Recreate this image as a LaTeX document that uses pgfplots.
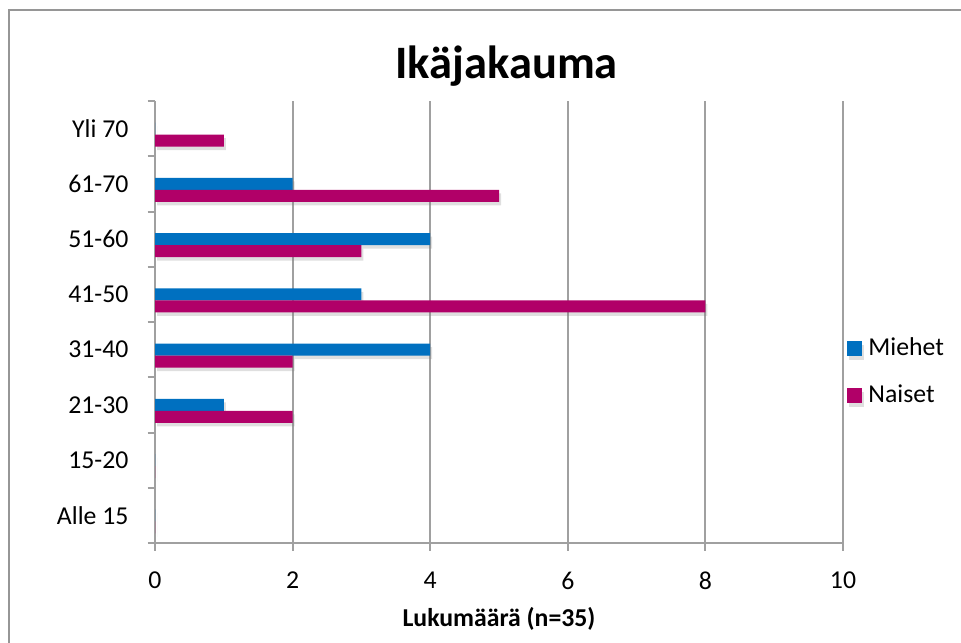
\documentclass[border=0pt]{standalone}
\usepackage{fontspec}
\setmainfont{Carlito}
\usepackage{pgfplots}
\pgfplotsset{compat=1.18}
\usetikzlibrary{shadows}
\definecolor{miehet}{RGB}{0,112,192}
\definecolor{naiset}{RGB}{177,0,104}
\definecolor{gridgray}{RGB}{160,160,160}
\definecolor{framegray}{RGB}{150,150,150}
\begin{document}
\begin{tikzpicture}
\useasboundingbox (0,0) rectangle (384.4pt,256.8pt);
\draw[framegray, line width=0.8pt] (3.6pt,-20pt) rectangle (400pt,252.8pt);
\node[font=\bfseries\fontsize{18.6}{21}\selectfont, anchor=base] at (202.6pt,225.5pt) {Ikäjakauma};
\begin{axis}[
  at={(62pt,39.6pt)}, anchor=south west,
  width=275.2pt, height=176.8pt, scale only axis,
  xmin=0, xmax=10, ymin=-0.5, ymax=7.5,
  xtick={0,2,...,10},
  ytick={-0.5,0.5,...,7.5},
  yticklabels={},
  extra y ticks={0,1,2,3,4,5,6,7},
  extra y tick labels={Alle 15,15-20,21-30,31-40,41-50,51-60,61-70,Yli 70},
  extra y tick style={tick style={draw=none}, grid=none},
  axis x line*=bottom, axis y line*=left,
  axis line style={gridgray, line width=0.8pt},
  tick style={gridgray, line width=0.8pt},
  xmajorgrids, grid style={gridgray, line width=0.8pt},
  tick align=outside, major tick length=3pt,
  /pgf/number format/assume math mode=true,
  ticklabel style={font=\fontsize{10.3}{12}\selectfont},
  xticklabel style={yshift=-5pt},
  yticklabel style={xshift=-4.1pt},
  xlabel={Lukumäärä (n=35)},
  xlabel style={font=\bfseries\fontsize{10.3}{12}\selectfont, at={(axis description cs:0.5,-0.172)}, anchor=center},
  legend style={at={(1.005,0.386)}, anchor=west, draw=none, fill=none,
    font=\fontsize{10.3}{12}\selectfont, row sep=7.2pt, inner sep=0pt,
    nodes={inner ysep=1.5pt, inner xsep=2.6pt}},
  legend cell align=left,
  legend image code/.code={\fill[#1] (0pt,-3pt) rectangle (6pt,3pt);},
  every legend image post/.append style={xshift=-1pt},
]
\addplot[xbar, bar width=4.8pt, bar shift=0pt, fill=miehet, draw=none,
  drop shadow={shadow xshift=0.8pt, shadow yshift=-1.4pt, opacity=0.25}]
  coordinates {(0,0) (0,1) (1,2) (4,3) (3,4) (4,5) (2,6) (0,7)};
\addplot[xbar, bar width=4.8pt, bar shift=-4.8pt, fill=naiset, draw=none,
  drop shadow={shadow xshift=0.8pt, shadow yshift=-1.4pt, opacity=0.25}]
  coordinates {(0,0) (0,1) (2,2) (2,3) (8,4) (3,5) (5,6) (1,7)};
\legend{Miehet,Naiset}
\end{axis}
\end{tikzpicture}
\end{document}
